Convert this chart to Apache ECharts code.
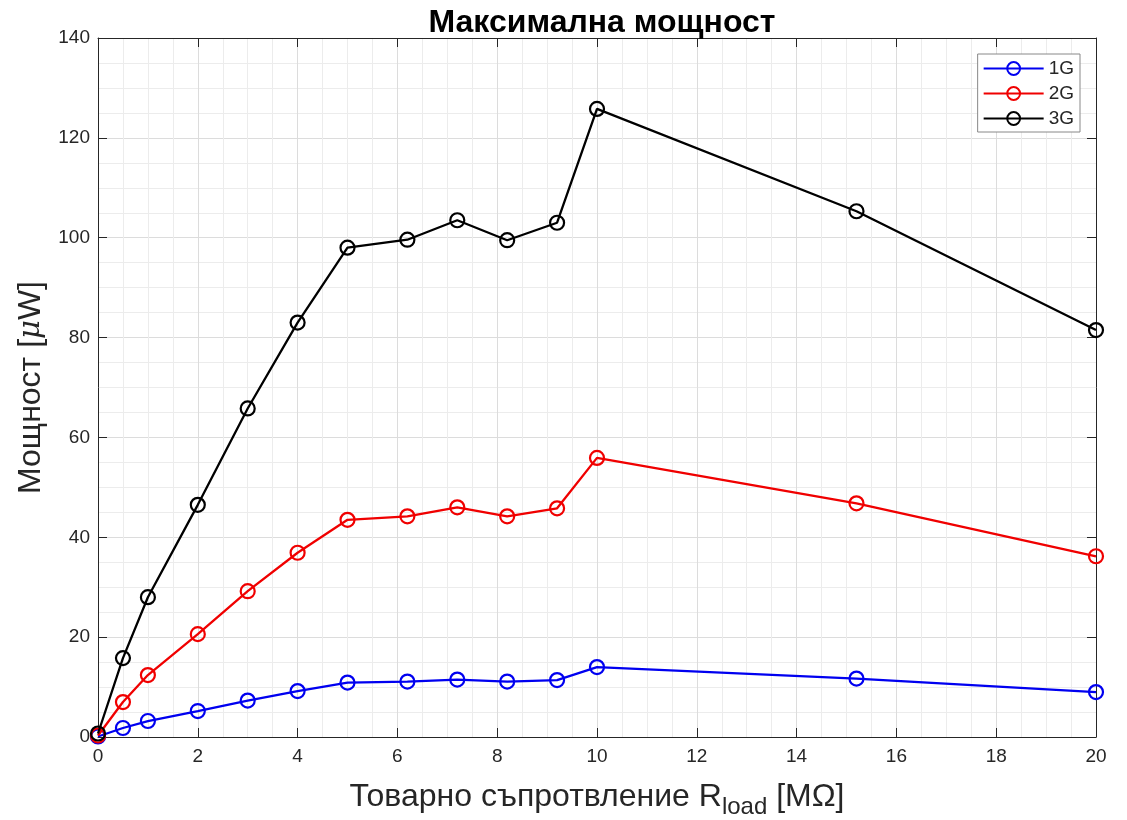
<!DOCTYPE html>
<html>
<head>
<meta charset="utf-8">
<script src="https://cdn.jsdelivr.net/npm/echarts@6/dist/echarts.min.js"></script>
<style>
html,body{margin:0;padding:0;background:#fff;}
#chart{width:1127px;height:820px;}
</style>
</head>
<body>
<div id="chart"></div>
<script>
const xValues = [0, 0.5, 1, 2, 3, 4, 5, 6.2, 7.2, 8.2, 9.2, 10, 15.2, 20];
const g1 = [0.1, 1.8, 3.2, 5.2, 7.3, 9.2, 10.9, 11.1, 11.5, 11.1, 11.4, 14.0, 11.7, 9.0];
const g2 = [0.3, 7.0, 12.4, 20.6, 29.2, 36.9, 43.5, 44.2, 46.0, 44.2, 45.8, 55.9, 46.8, 36.2];
const g3 = [0.7, 15.8, 28.0, 46.5, 65.8, 83.0, 98.0, 99.6, 103.5, 99.5, 103.0, 125.8, 105.3, 81.5];
const seriesNames = ['1G', '2G', '3G'];
const seriesColors = ['#0000f0', '#f00000', '#000000'];
const title = 'Максимална мощност';

const pairs = arr => xValues.map((x, i) => [x, arr[i]]);
const allData = [g1, g2, g3];

const font = 'Liberation Sans, Arial, sans-serif';
const axisColor = '#262626';

const chart = echarts.init(document.getElementById('chart'), null, {renderer: 'canvas'});
chart.setOption({
  animation: false,
  backgroundColor: '#fff',
  title: {
    text: title,
    left: 597, top: 2, textAlign: 'center',
    textStyle: {fontFamily: font, fontSize: 32, fontWeight: 'bold', color: '#000'}
  },
  grid: {left: 98, right: 31, top: 38, bottom: 83, containLabel: false, outerBoundsMode: 'none'},
  legend: {
    orient: 'vertical',
    right: 47, top: 54,
    data: seriesNames,
    backgroundColor: '#fff',
    borderColor: '#888',
    borderWidth: 1,
    padding: [5, 6, 4, 5],
    itemWidth: 60, itemHeight: 16, itemGap: 6,
    textStyle: {fontFamily: font, fontSize: 19, color: axisColor, padding: [0, 0, 0, 0]}
  },
  xAxis: [{
    type: 'value', min: 0, max: 20, interval: 2,
    position: 'bottom',
    name: '{n|Товарно съпротвление R}{sub|load}{n| [MΩ]}',
    nameLocation: 'middle', nameGap: 39,
    nameTextStyle: {
      fontFamily: font, color: axisColor,
      rich: {
        n: {fontFamily: font, fontSize: 32, color: axisColor},
        sub: {fontFamily: font, fontSize: 24, color: axisColor, padding: [19, 0, 0, 0]}
      }
    },
    axisLine: {show: true, onZero: false, lineStyle: {color: axisColor, width: 1}},
    axisTick: {show: true, inside: true, length: 9, lineStyle: {color: axisColor}},
    axisLabel: {fontFamily: font, fontSize: 19, color: axisColor, margin: 10},
    splitLine: {show: true, lineStyle: {color: '#dcdcdc', width: 1}},
    minorTick: {show: false, splitNumber: 4},
    minorSplitLine: {show: true, lineStyle: {color: '#ececec', width: 1}}
  }, {
    type: 'value', min: 0, max: 20, interval: 2,
    position: 'top',
    axisLine: {show: true, onZero: false, lineStyle: {color: axisColor, width: 1}},
    axisTick: {show: true, inside: true, length: 9, lineStyle: {color: axisColor}},
    axisLabel: {show: false},
    splitLine: {show: false}
  }],
  yAxis: [{
    type: 'value', min: 0, max: 140, interval: 20,
    position: 'left',
    name: '{n|Мощност [}{mu|μ}{n|W]}',
    nameLocation: 'middle', nameGap: 46, nameRotate: 90,
    nameTextStyle: {
      fontFamily: font, color: axisColor,
      rich: {
        n: {fontFamily: font, fontSize: 32, color: axisColor},
        mu: {fontFamily: 'DejaVu Serif, serif', fontStyle: 'italic', fontSize: 29, color: axisColor}
      }
    },
    axisLine: {show: true, onZero: false, lineStyle: {color: axisColor, width: 1}},
    axisTick: {show: true, inside: true, length: 9, lineStyle: {color: axisColor}},
    axisLabel: {fontFamily: font, fontSize: 19, color: axisColor, margin: 8},
    splitLine: {show: true, lineStyle: {color: '#dcdcdc', width: 1}},
    minorTick: {show: false, splitNumber: 4},
    minorSplitLine: {show: true, lineStyle: {color: '#ececec', width: 1}}
  }, {
    type: 'value', min: 0, max: 140, interval: 20,
    position: 'right',
    axisLine: {show: true, onZero: false, lineStyle: {color: axisColor, width: 1}},
    axisTick: {show: true, inside: true, length: 9, lineStyle: {color: axisColor}},
    axisLabel: {show: false},
    splitLine: {show: false}
  }],
  series: seriesNames.map((name, i) => ({
    name: name,
    type: 'line',
    xAxisIndex: 0, yAxisIndex: 0,
    data: pairs(allData[i]),
    color: seriesColors[i],
    symbol: 'circle',
    symbolSize: 14,
    showAllSymbol: true,
    lineStyle: {color: seriesColors[i], width: 2.3},
    itemStyle: {color: 'rgba(255,255,255,0)', borderColor: seriesColors[i], borderWidth: 2.2},
    z: 2 + i
  }))
});
</script>
</body>
</html>
